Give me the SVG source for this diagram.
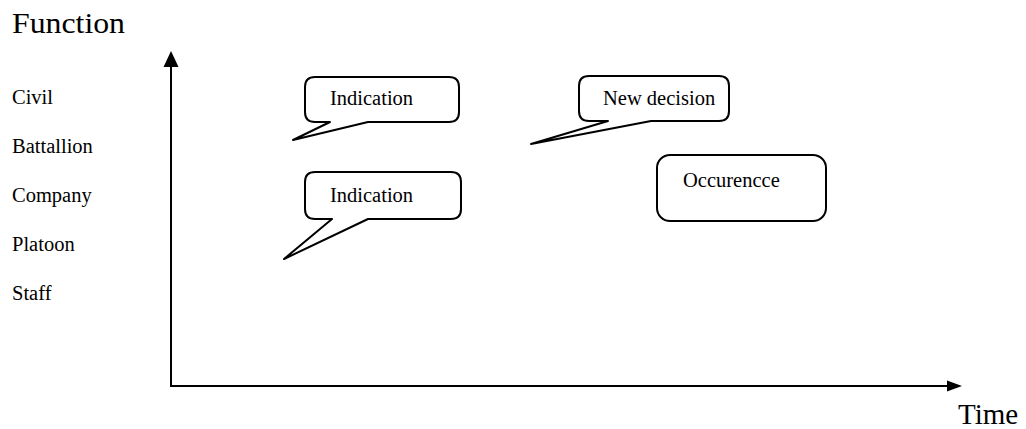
<svg xmlns="http://www.w3.org/2000/svg" width="1026" height="429" viewBox="0 0 1026 429">
<style>
.lbl{font-size:20.5px}
.big{font-size:29px}
.bub{fill:#fff;stroke:#000;stroke-width:2;stroke-linejoin:round}
.axis{stroke:#000;stroke-width:2;fill:none}
</style>
<rect width="1026" height="429" fill="#fff"/>
<g id="axes">
<line class="axis" x1="171" y1="65" x2="171" y2="386"/>
<polygon points="171,51 163.5,67 178.5,67" fill="#000"/>
<line class="axis" x1="170" y1="386" x2="948" y2="386"/>
<polygon points="962,386 947,380.5 947,391.5" fill="#000"/>
</g>
<g id="axis-labels" font-family="'Liberation Serif', 'Times New Roman', serif" fill="#000">
<text class="big" x="12" y="33" textLength="113" lengthAdjust="spacingAndGlyphs">Function</text>
<text class="big" x="958" y="424">Time</text>
<text class="lbl" x="12" y="104">Civil</text>
<text class="lbl" x="12" y="153">Battallion</text>
<text class="lbl" x="12" y="202">Company</text>
<text class="lbl" x="12" y="251">Platoon</text>
<text class="lbl" x="12" y="300">Staff</text>
</g>
<g id="indication-1" font-family="'Liberation Serif', 'Times New Roman', serif">
<path class="bub" d="M315,77 H449 Q459,77 459,87 V112 Q459,122 449,122 H368 L293,140 L330,122 H315 Q305,122 305,112 V87 Q305,77 315,77 Z"/>
<text class="lbl" x="330" y="105">Indication</text>
</g>
<g id="indication-2" font-family="'Liberation Serif', 'Times New Roman', serif">
<path class="bub" d="M315,172 H451 Q461,172 461,182 V209 Q461,219 451,219 H368 L284,259 L332,219 H315 Q305,219 305,209 V182 Q305,172 315,172 Z"/>
<text class="lbl" x="330" y="202">Indication</text>
</g>
<g id="new-decision" font-family="'Liberation Serif', 'Times New Roman', serif">
<path class="bub" d="M589,76 H719 Q729,76 729,86 V111 Q729,121 719,121 H651 L531,144 L608,121 H589 Q579,121 579,111 V86 Q579,76 589,76 Z"/>
<text class="lbl" x="603" y="105">New decision</text>
</g>
<g id="occurencce" font-family="'Liberation Serif', 'Times New Roman', serif">
<rect class="bub" x="657" y="155" width="169" height="66" rx="13" ry="13"/>
<text class="lbl" x="683" y="187">Occurencce</text>
</g>
</svg>
